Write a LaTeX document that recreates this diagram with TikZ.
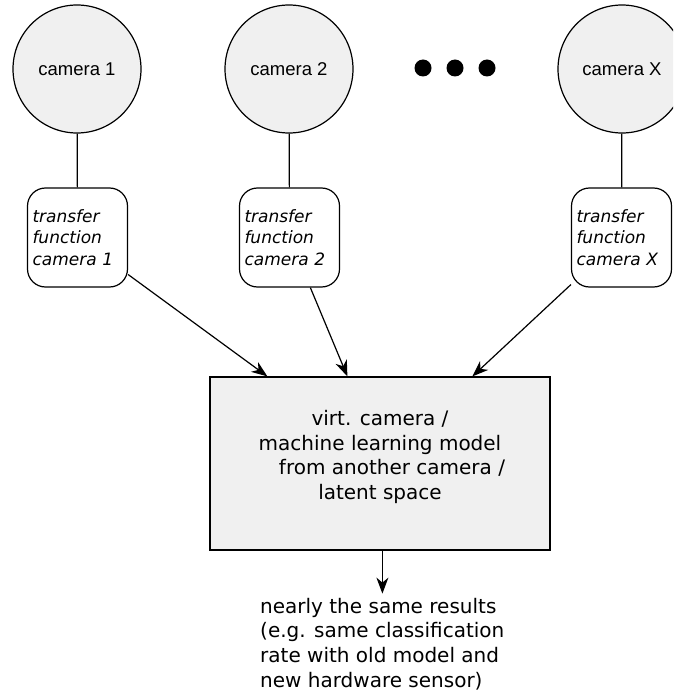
\documentclass[tikz,border=0pt]{standalone}
\usepackage{fontspec}
\setmainfont{DejaVu Sans}
\newfontfamily\arialfont{Liberation Sans}
\usetikzlibrary{arrows.meta,calc}
\definecolor{fillg}{HTML}{F0F0F0}
\tikzset{
  cam/.style={circle,draw=black,fill=fillg,line width=1.2pt,minimum size=128pt,inner sep=0pt,
    font=\arialfont\fontsize{18.5}{22}\selectfont},
  tfbox/.style={rectangle,rounded corners=18pt,draw=black,fill=white,line width=1.2pt,
    minimum width=100pt,minimum height=99pt,inner xsep=5pt,inner ysep=0pt,
    text width=90pt,align=left,font=\itshape\fontsize{17}{21.5}\selectfont},
  mainbox/.style={rectangle,draw=black,fill=fillg,line width=1.2pt,minimum width=340pt,minimum height=173pt,inner sep=0pt},
  txt/.style={inner sep=0pt,font=\fontsize{20}{24.6}\selectfont},
  conn/.style={line width=1.2pt},
  arr/.style={line width=1.2pt,-{Stealth[length=16pt,width=12pt,inset=5pt]}},
  dotn/.style={circle,fill=black,minimum size=17pt,inner sep=0pt}
}
\begin{document}
\begin{tikzpicture}[x=1pt,y=-1pt]
\useasboundingbox (0,0) rectangle (673,695);
\clip (0,0) rectangle (673,695);
\node[cam] (c1) at (77,69) {camera 1};
\node[cam] (c2) at (289,69) {camera 2};
\node[cam] (cX) at (622,69) {camera X};
\node[dotn] (d1) at (423,68) {};
\node[dotn] (d2) at (455,68) {};
\node[dotn] (d3) at (487,68) {};
\node[tfbox] (t1) at (77.5,237.5) {transfer\\function\\camera 1};
\node[tfbox] (t2) at (289.5,237.5) {transfer\\function\\camera 2};
\node[tfbox] (tX) at (621.5,237.5) {transfer\\function\\camera X};
\node[mainbox] (main) at (380,463.5) {};
\node[txt,align=center] (mtext) at (380,457) {virt. camera /\\machine learning model\\\hspace*{24pt}from another camera /\\latent space};
\node[txt,align=left,anchor=west] (res) at (260,644) {nearly the same results\\(e.g. same classification\\rate with old model and\\new hardware sensor)};
\coordinate (a1) at ($(main.north west)+(58,0)$);
\coordinate (a2) at ($(main.north west)+(138,0)$);
\coordinate (a3) at ($(main.north west)+(263,0)$);
\coordinate (a4) at ($(main.south west)+(173,43)$);
\draw[conn] (c1) -- (t1);
\draw[conn] (c2) -- (t2);
\draw[conn] (cX) -- (tX);
\draw[arr] (t1) -- (a1);
\draw[arr] (t2) -- (a2);
\draw[arr] (tX) -- (a3);
\draw[arr] (main.south -| a4) -- (a4);
\end{tikzpicture}
\end{document}
